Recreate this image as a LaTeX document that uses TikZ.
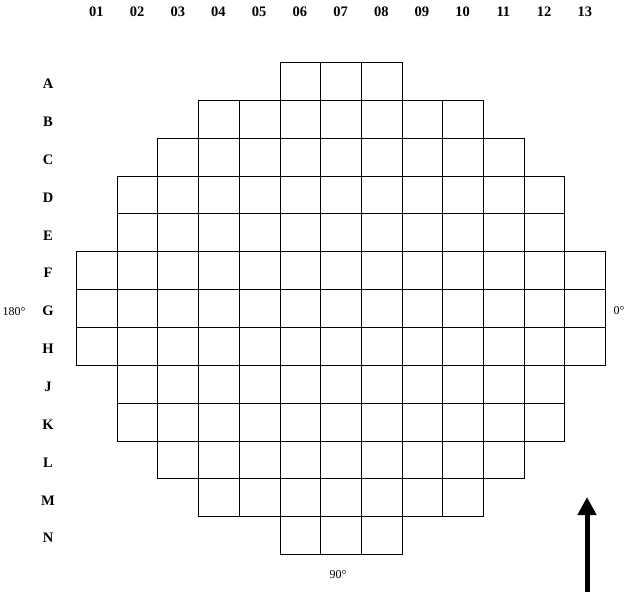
\documentclass[tikz,border=0pt]{standalone}
\usepackage{fontspec}
\setmainfont{Liberation Serif}
\usetikzlibrary{arrows.meta}
\begin{document}
\begin{tikzpicture}[x=1pt,y=-1pt,
  cell/.style={draw, line width=0.8pt, minimum width=40.7pt, minimum height=37.85pt, inner sep=0pt, anchor=north west},
  lab/.style={font=\bfseries\fontsize{14.5}{14.5}\selectfont, inner sep=0pt},
  deg/.style={font=\fontsize{12}{12}\selectfont, inner sep=0pt}]
\useasboundingbox (0,0) rectangle (630,600);
% grid cells
\foreach \rl/\r/\a/\b in {A/0/6/8, B/1/4/10, C/2/3/11, D/3/2/12, E/4/2/12, F/5/1/13, G/6/1/13, H/7/1/13, J/8/2/12, K/9/2/12, L/10/3/11, M/11/4/10, N/12/6/8}{
  \node[lab] (row-\rl) at (48,{62+(\r+0.5)*37.85+3}) {\rl};
  \foreach \c in {\a,...,\b}{
    \node[cell] (c-\rl-\c) at ({76+(\c-1)*40.7},{62+\r*37.85}) {};
  }
}
% column labels
\foreach \t [count=\i] in {01,02,03,04,05,06,07,08,09,10,11,12,13}{
  \node[lab] (col-\i) at ({76+(\i-0.5)*40.7},12) {\t};
}
% angle labels
\node[deg] (d180) at (14,312) {180°};
\node[deg] (d0) at (619,311) {0°};
\node[deg] (d90) at (338,575) {90°};
% arrow
\coordinate (arrS) at (587,592);
\coordinate (arrE) at (587,497);
\draw[line width=5pt, -{Triangle[width=18pt,length=18pt]}] (arrS) -- (arrE);
\end{tikzpicture}
\end{document}
